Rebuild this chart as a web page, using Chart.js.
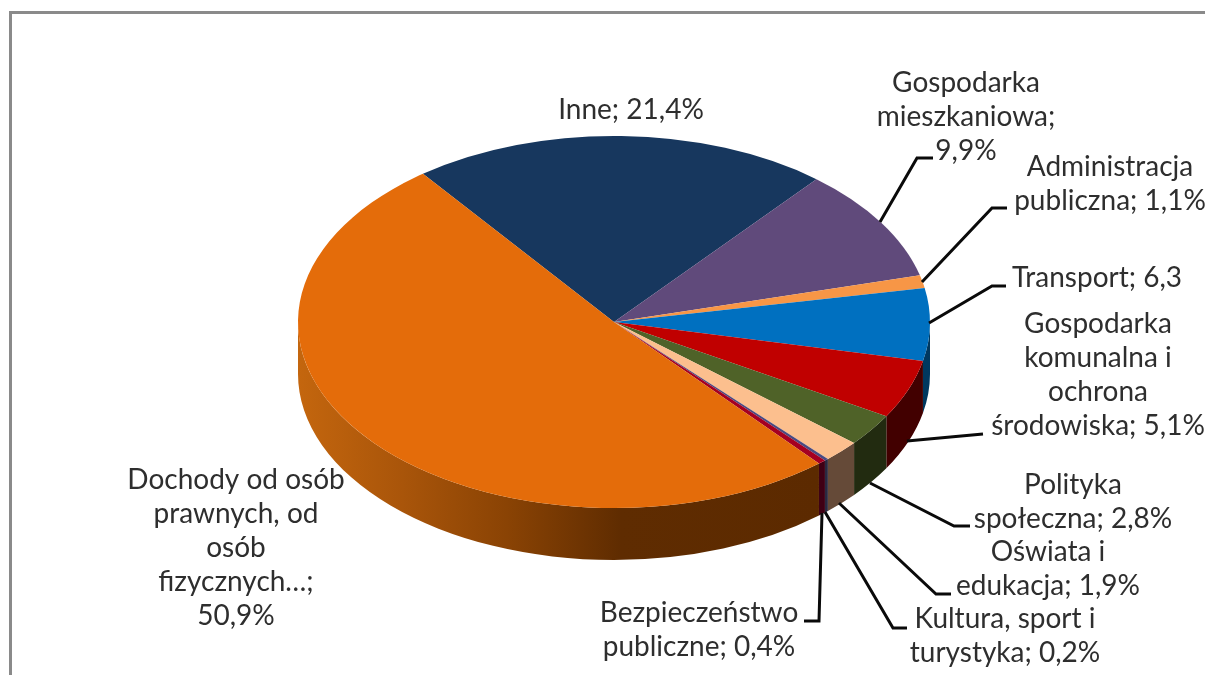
<!DOCTYPE html>
<html lang="pl">
<head>
<meta charset="utf-8">
<title>Struktura dochodów</title>
<script src="https://cdn.jsdelivr.net/npm/chart.js@4"></script>
<style>
html,body{margin:0;padding:0;background:#fff;overflow:hidden}
canvas{display:block}
</style>
</head>
<body>
<canvas id="c" width="1205" height="675"></canvas>
<script>
const categories = ["Inne","Gospodarka mieszkaniowa","Administracja publiczna","Transport","Gospodarka komunalna i ochrona środowiska","Polityka społeczna","Oświata i edukacja","Kultura, sport i turystyka","Bezpieczeństwo publiczne","Dochody od osób prawnych, od osób fizycznych…"];
const values = [21.4,9.9,1.1,6.3,5.1,2.8,1.9,0.2,0.4,50.9];
const topColors = ["#17375E","#604A7B","#F79646","#0070C0","#C00000","#4F6228","#FCBF8E","#4A4A80","#A50021","#E46C0A"];
const sideColors = ["#0B1C30","#30253E","#7C4B23","#00385F","#420000","#222B10","#654A38","#2A2A40","#3F0014",null];
const labelLines = [
  ["Inne; 21,4%"],
  ["Gospodarka","mieszkaniowa;","9,9%"],
  ["Administracja","publiczna; 1,1%"],
  ["Transport; 6,3"],
  ["Gospodarka","komunalna i","ochrona","środowiska; 5,1%"],
  ["Polityka","społeczna; 2,8%"],
  ["Oświata i","edukacja; 1,9%"],
  ["Kultura, sport i","turystyka; 0,2%"],
  ["Bezpieczeństwo","publiczne; 0,4%"],
  ["Dochody od osób","prawnych, od","osób","fizycznych…;","50,9%"]
];
const labelAnchors = [[631,110],[966,83],[1110,167],[1097,278],[1098,324],[1073,485],[1048,552],[1005,619],[699,613],[236,480]];
const leaders = [
  null,
  [[880,222],[917,158],[933,158]],
  [[922,282],[992,208],[1007,208]],
  [[929,323],[992,286],[1006,286]],
  [[907,441],[983,434]],
  [[870,483],[954,526],[970,526]],
  [[839,503],[936,594],[951,594]],
  [[825,512],[893,628],[907,628]],
  [[822,513],[819,621],[804,621]],
  null
];
const RX = 316, RY = 186, DEPTH = 52, LINE_H = 34;
const FONT = '28px Lato, "Open Sans", sans-serif';

const pie3d = {
  id:'pie3d',
  beforeDraw(chart){
    const ctx = chart.ctx;
    ctx.save();
    ctx.fillStyle='#ffffff'; ctx.fillRect(0,0,1205,675);
    ctx.fillStyle='#8A8A8A';
    ctx.fillRect(9,11,1196,3);
    ctx.fillRect(9,11,3,664);
    ctx.restore();
  },
  beforeDatasetsDraw(chart){
    const ctx = chart.ctx, arcs = chart.getDatasetMeta(0).data;
    const cx = arcs[0].x, cy = arcs[0].y, sy = RY/arcs[0].outerRadius;
    const g = ctx.createLinearGradient(298,0,820,0);
    g.addColorStop(0,'#C4660E');
    g.addColorStop(0.2,'#A9550A');
    g.addColorStop(0.4,'#8A4304');
    g.addColorStop(0.62,'#5F2C01');
    g.addColorStop(1,'#5C2A00');
    const TAU = Math.PI*2;
    arcs.forEach((el,i)=>{
      [0,TAU,-TAU].forEach(k=>{
        const a = Math.max(el.startAngle, k), b = Math.min(el.endAngle, k+Math.PI);
        if(b<=a) return;
        ctx.beginPath();
        ctx.ellipse(cx,cy,RX,RY,0,a,b,false);
        ctx.ellipse(cx,cy+DEPTH,RX,RY,0,b,a,true);
        ctx.closePath();
        ctx.fillStyle = sideColors[i] || g;
        ctx.fill();
      });
    });
    ctx.save();
    ctx.translate(cx,cy); ctx.scale(1,sy); ctx.translate(-cx,-cy);
  },
  afterDatasetsDraw(chart){
    chart.ctx.restore();
  },
  afterDraw(chart){
    const ctx = chart.ctx;
    ctx.save();
    ctx.strokeStyle='#0a0a0a'; ctx.lineWidth=3; ctx.lineJoin='miter';
    leaders.forEach(p=>{
      if(!p) return;
      ctx.beginPath();
      p.forEach((q,j)=> j? ctx.lineTo(q[0],q[1]) : ctx.moveTo(q[0],q[1]));
      ctx.stroke();
    });
    ctx.font=FONT; ctx.fillStyle='#2e2e2e'; ctx.textAlign='center'; ctx.textBaseline='middle';
    labelLines.forEach((lines,i)=>{
      lines.forEach((t,j)=> ctx.fillText(t,labelAnchors[i][0],labelAnchors[i][1]+j*LINE_H));
    });
    ctx.restore();
  }
};

new Chart(document.getElementById('c'),{
  type:'pie',
  data:{labels:categories,datasets:[{data:values,backgroundColor:topColors,borderWidth:0,radius:RX,clip:false}]},
  options:{
    responsive:false,animation:false,rotation:-37.2,
    layout:{padding:{left:23,bottom:31,top:0,right:0}},
    plugins:{legend:{display:false},tooltip:{enabled:false}}
  },
  plugins:[pie3d]
});
</script>
</body>
</html>
